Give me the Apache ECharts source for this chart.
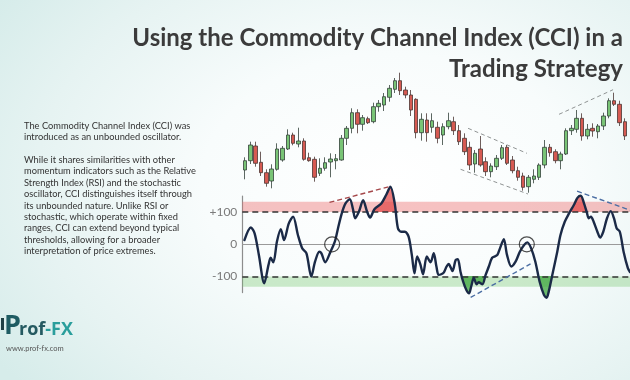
<!DOCTYPE html>
<html lang="en">
<head>
<meta charset="utf-8">
<title>Using the Commodity Channel Index (CCI) in a Trading Strategy</title>
<script src="https://cdn.jsdelivr.net/npm/echarts@6/dist/echarts.min.js"></script>
<style>
  html, body { margin: 0; padding: 0; }
  body {
    width: 630px; height: 380px; overflow: hidden;
    background: radial-gradient(ellipse 75% 85% at 62% 48%, #ffffff 0%, #f8fcfc 40%, #e6f3f2 75%, #d6ecea 100%);
  }
  #chart { width: 630px; height: 380px; }
</style>
</head>
<body>
<div id="chart"></div>
<script>
// price candles: [open, close, low, high]
const candles = [
  [30, 39.3, 20.7, 42.7], [39.3, 55, 36, 58.3], [54, 36.7, 33.3, 58.3], [37.7, 27.3, 24, 48.3],
  [27.3, 16.7, 13.3, 30.7], [19, 31, 11.7, 35.7], [30.7, 51, 29.3, 56.7], [40, 51.7, 38.3, 54],
  [51, 65, 50, 70.7], [65, 56.7, 54.7, 67.3], [56, 59, 52.7, 72.3], [59, 40.7, 39.3, 61.7],
  [42.3, 39.3, 38.3, 47.3], [40.7, 22.7, 18.3, 43.3], [26.7, 31.7, 24, 41.7], [31.7, 37.3, 29.3, 42.7],
  [38, 41, 22.7, 46.7], [39.3, 41.3, 30.7, 46], [40, 61.7, 39.3, 65], [61.7, 71.7, 55, 74],
  [71.7, 87.3, 66.7, 91.7], [87.3, 75.7, 66.7, 90.7], [75.7, 82.3, 69.3, 85], [81.3, 77.3, 76, 83.3],
  [78.3, 93.3, 76.7, 97.3], [93.3, 96.7, 88.3, 100], [95, 103.3, 89, 107], [102.7, 111.7, 98.3, 115],
  [110.7, 119.3, 107, 122], [119.3, 109.3, 105, 127.3], [110, 105, 101.7, 113.3], [105, 90, 84, 110],
  [100.7, 67.3, 61.7, 101.7], [67.3, 80.7, 59.3, 86.7], [80, 67.3, 58.3, 86.7], [72.7, 79.3, 67.3, 86.7],
  [72.7, 61.7, 56.7, 78.3], [65, 73.3, 55, 76.7], [73.3, 79.3, 70.7, 87.3], [78.3, 69.3, 65, 83.3],
  [69.3, 58.3, 55, 75], [61.7, 48.3, 45, 66.7], [52.7, 35, 30, 58.3], [36, 46.7, 27.3, 50],
  [51, 35, 33.3, 64], [38.3, 28.3, 24, 42.7], [28.3, 34, 22.7, 36.7], [33.3, 41.7, 30, 45],
  [41.7, 52.3, 40, 55], [52.7, 36.7, 35, 55], [40, 29.3, 26.7, 44], [29.3, 22.7, 19.3, 33.3],
  [24, 12.7, 9.3, 27.3], [13.3, 22.7, 7.3, 25], [20.7, 24, 16.7, 30.7], [22.7, 35, 20, 36.7],
  [35, 52.7, 31.7, 60], [52.7, 47.3, 43.3, 56], [48.3, 39.3, 36.7, 50.7], [39.3, 46, 30.7, 48.3],
  [46, 69.3, 45, 71.7], [69.3, 71.7, 65, 75], [70.7, 81.7, 67.3, 90], [81.7, 64, 59.3, 86.7],
  [64, 70.7, 60.7, 76], [71.7, 69, 63.3, 76.7], [68.3, 74, 61.7, 76], [74, 84, 70, 87.3],
  [84, 99.3, 81.7, 101.7], [99.3, 95.7, 94, 107.3], [95.7, 77.3, 74, 99.3], [78.3, 64, 60, 81.7]
];
const categories = candles.map((c, i) => 'D' + (i + 1));

// dashed channel lines on the price panel, [bar index, price]
const priceTrends = [
  [[41.7, 71.7], [52.7, 46.7]],
  [[40.3, 30.7], [52.9, 6]],
  [[58.7, 85.7], [68.8, 110.3]]
];

// CCI curve, x in bar index units
const cciX = [-0.1, 1.1, 1.8, 2.6, 3.6, 4.4, 4.8, 5.3, 6.0, 6.7,
  7.3, 8.2, 9.0, 9.9, 10.7, 11.5, 12.4, 13.1, 13.9, 14.3,
  15.0, 16.0, 16.8, 17.4, 18.1, 18.8, 19.6, 20.2, 20.6, 21.3,
  22.1, 22.8, 23.4, 24.2, 25.5, 26.4, 27.2, 28.0, 28.6, 29.2,
  29.9, 30.6, 31.2, 31.7, 32.2, 32.8, 33.3, 34.0, 34.7, 35.3,
  35.8, 36.2, 36.7, 37.2, 37.7, 38.1, 38.5, 38.8, 39.4, 39.8,
  40.3, 40.8, 41.4, 41.9, 42.3, 42.8, 43.3, 43.7, 44.4, 45.0,
  45.6, 46.2, 46.7, 47.2, 47.7, 48.4, 49.0, 49.8, 50.6, 51.4,
  52.2, 52.8, 53.5, 54.3, 55.1, 55.9, 56.4, 56.8, 57.6, 58.4,
  59.0, 59.8, 60.6, 61.5, 62.2, 62.8, 63.4, 63.9, 64.3, 64.7,
  65.2, 65.9, 66.4, 67.0, 67.7, 68.4, 69.0, 69.5, 70.1, 70.8,
  71.6, 72.0];
const cciY = [13, 52, 34, -33, -121, -64, -42, -56, 10, 47,
  13, 65, 86, 29, -12, -28, -100, -54, -23, -28,
  -56, -23, 8, 50, 96, 127, 140, 109, 81, 101,
  137, 103, 83, 109, 127, 153, 179, 127, 50, 39,
  39, 24, -33, -90, -38, -62, -93, -38, -56, -28,
  -69, -95, -93, -87, -69, -61, -73, -83, -49, -46,
  -85, -116, -142, -152, -131, -104, -124, -118, -124, -95,
  -69, -42, -38, -33, -12, 16, -33, -69, -54, -23,
  -2, 6, -12, -54, -116, -157, -166, -147, -85, -23,
  29, 70, 96, 122, 145, 151, 127, 101, 81, 86,
  70, 39, 21, 39, 81, 103, 81, 50, 39, -23,
  -74, -86];

const cciTicks = [-100, 0, 100];
const overbought = 100, oversold = -100;
const bandTop = 132, bandBottom = -132;
// stretches where the extreme beyond the level is shaded
const redZones = [[23.0, 29.5], [60.0, 64.5]];
const greenZones = [[39.5, 45.8], [54.0, 58.0]];
// zero-line crossings that are circled
const crossMarks = [[16.3, 0], [52.7, 0]];
// divergence lines on the CCI panel
const cciRedTrend = [[15.8, 130], [27.2, 180]];
const cciBlueTrends = [
  [[42.2, -165], [53.4, -61]],
  [[62.1, 165], [72, 106]]
];

const noteLines = [
  'The Commodity Channel Index (CCI) was',
  'introduced as an unbounded oscillator.',
  '',
  'While it shares similarities with other',
  'momentum indicators such as the Relative',
  'Strength Index (RSI) and the stochastic',
  'oscillator, CCI distinguishes itself through',
  'its unbounded nature. Unlike RSI or',
  'stochastic, which operate within fixed',
  'ranges, CCI can extend beyond typical',
  'thresholds, allowing for a broader',
  'interpretation of price extremes.'
];

const cciPts = cciX.map((x, i) => [x, cciY[i]]);
const inZones = (x, zones) => zones.some(z => x >= z[0] && x <= z[1]);
const zoneData = zones => cciPts.map(p => inZones(p[0], zones) ? p : [p[0], '-']);
const clear = 'rgba(255,255,255,0)';

const chart = echarts.init(document.getElementById('chart'));

const dashed = (data, color, width) => ({
  type: 'line', xAxisIndex: 2, yAxisIndex: 1, data: data, symbol: 'none', clip: false, z: 6,
  lineStyle: { color: color, width: width, type: [5, 3] }, silent: true
});

chart.setOption({
  animation: false,
  backgroundColor: 'transparent',
  grid: [
    { left: 242.3, top: 70, width: 385.2, height: 130 },
    { left: 242.3, top: 196, width: 387.9, height: 96.6 }
  ],
  xAxis: [
    { gridIndex: 0, type: 'category', data: categories, show: false },
    { gridIndex: 0, type: 'value', min: -0.5, max: 71.5, show: false },
    { gridIndex: 1, type: 'value', min: -0.5, max: 72, show: false }
  ],
  yAxis: [
    { gridIndex: 0, type: 'value', min: 0, max: 130, show: false },
    {
      gridIndex: 1, type: 'value', min: -150, max: 150, interval: 50,
      axisLine: { show: true, onZero: false, lineStyle: { color: '#8d8d8d', width: 1.2 } },
      axisTick: { show: false },
      splitLine: { show: false },
      axisLabel: {
        margin: 5, color: '#7a7a7a', fontSize: 12, fontFamily: 'Lato',
        formatter: v => cciTicks.includes(v) ? (v > 0 ? '+' + v : String(v)) : ''
      }
    }
  ],
  visualMap: [
    {
      type: 'piecewise', show: false, seriesIndex: 5, dimension: 1,
      pieces: [
        { gte: -1000, lte: overbought, color: clear },
        { gt: overbought, lte: 1000, color: 'rgba(226,72,72,0.72)' }
      ],
      outOfRange: { color: clear }
    },
    {
      type: 'piecewise', show: false, seriesIndex: 6, dimension: 1,
      pieces: [
        { gte: -1000, lt: oversold, color: 'rgba(60,165,60,0.75)' },
        { gte: oversold, lte: 1000, color: clear }
      ],
      outOfRange: { color: clear }
    }
  ],
  series: [
    {
      type: 'candlestick', xAxisIndex: 0, yAxisIndex: 0, data: candles, barWidth: 4,
      itemStyle: {
        color: '#79c476', color0: '#d65a52',
        borderColor: '#34413a', borderColor0: '#4a3532', borderWidth: 0.8
      }
    },
    ...priceTrends.map(t => ({
      type: 'line', xAxisIndex: 1, yAxisIndex: 0, data: t, symbol: 'none', silent: true,
      lineStyle: { color: '#8f9393', width: 1, type: [4, 3] }
    })),
    {
      // overbought / oversold bands
      type: 'line', xAxisIndex: 2, yAxisIndex: 1, data: [], z: 1, silent: true,
      markArea: {
        silent: true,
        data: [
          [{ yAxis: overbought, itemStyle: { color: 'rgba(236,110,110,0.42)' } }, { yAxis: bandTop }],
          [{ yAxis: bandBottom, itemStyle: { color: 'rgba(120,200,110,0.36)' } }, { yAxis: oversold }]
        ]
      }
    },
    {
      type: 'line', xAxisIndex: 2, yAxisIndex: 1, data: zoneData(redZones), smooth: 0.3,
      symbol: 'none', clip: false, z: 3, silent: true,
      lineStyle: { width: 0 }, areaStyle: { origin: 'start', opacity: 1 }
    },
    {
      type: 'line', xAxisIndex: 2, yAxisIndex: 1, data: zoneData(greenZones), smooth: 0.3,
      symbol: 'none', clip: false, z: 3, silent: true,
      lineStyle: { width: 0 }, areaStyle: { origin: 'end', opacity: 1 }
    },
    {
      // reference levels
      type: 'line', xAxisIndex: 2, yAxisIndex: 1, data: [], z: 4, silent: true,
      markLine: {
        silent: true, symbol: 'none', label: { show: false },
        data: [
          { yAxis: overbought, lineStyle: { color: '#333', width: 1.5, type: [6, 4] } },
          { yAxis: oversold, lineStyle: { color: '#333', width: 1.5, type: [6, 4] } },
          { yAxis: 0, lineStyle: { color: '#9a9a9a', width: 1, type: 'solid' } }
        ]
      }
    },
    {
      type: 'line', xAxisIndex: 2, yAxisIndex: 1, data: cciPts, smooth: 0.3,
      symbol: 'none', clip: false, z: 5, silent: true,
      lineStyle: { color: '#1b2a47', width: 2.4, cap: 'round', join: 'round' }
    },
    dashed(cciRedTrend, '#a5484b', 1.4),
    ...cciBlueTrends.map(t => dashed(t, '#4b6ea3', 1.4)),
    {
      type: 'scatter', xAxisIndex: 2, yAxisIndex: 1, data: crossMarks, symbolSize: 15, z: 7,
      itemStyle: { color: 'rgba(0,0,0,0)', borderColor: '#222', borderWidth: 1.2 }
    }
  ],
  graphic: [
    {
      type: 'text', x: 623, y: 38, silent: true,
      style: {
        text: 'Using the Commodity Channel Index (CCI) in a',
        font: 'bold 24px Lato', fill: '#3b3b3b',
        align: 'right', textAlign: 'right', verticalAlign: 'middle', textVerticalAlign: 'middle'
      }
    },
    {
      type: 'text', x: 623, y: 69, silent: true,
      style: {
        text: 'Trading Strategy',
        font: 'bold 24px Lato', fill: '#3b3b3b',
        align: 'right', textAlign: 'right', verticalAlign: 'middle', textVerticalAlign: 'middle'
      }
    },
    {
      type: 'text', x: 24, y: 120, silent: true,
      style: {
        text: noteLines.join('\n'), font: '9.3px Lato', lineHeight: 11.4, fill: '#333',
        verticalAlign: 'top', textVerticalAlign: 'top'
      }
    },
    { type: 'rect', shape: { x: 1, y: 318, width: 3, height: 12 }, style: { fill: '#1f3f44' }, silent: true },
    {
      type: 'text', x: 4, y: 326, silent: true,
      style: { text: 'P', font: 'bold 27px "Open Sans"', fill: '#1f5c63', verticalAlign: 'middle', textVerticalAlign: 'middle' }
    },
    {
      type: 'text', x: 19, y: 330, silent: true,
      style: {
        text: '{r|rof}{f|-FX}', verticalAlign: 'middle', textVerticalAlign: 'middle',
        rich: {
          r: { font: 'bold 18px "Open Sans"', fill: '#255a61', color: '#255a61' },
          f: { font: 'bold 18px "Open Sans"', fill: '#2a9e9c', color: '#2a9e9c' }
        }
      }
    },
    {
      type: 'text', x: 6, y: 349, silent: true,
      style: { text: 'www.prof-fx.com', font: '7.5px Lato', fill: '#555', verticalAlign: 'middle', textVerticalAlign: 'middle' }
    }
  ]
});
</script>
</body>
</html>
